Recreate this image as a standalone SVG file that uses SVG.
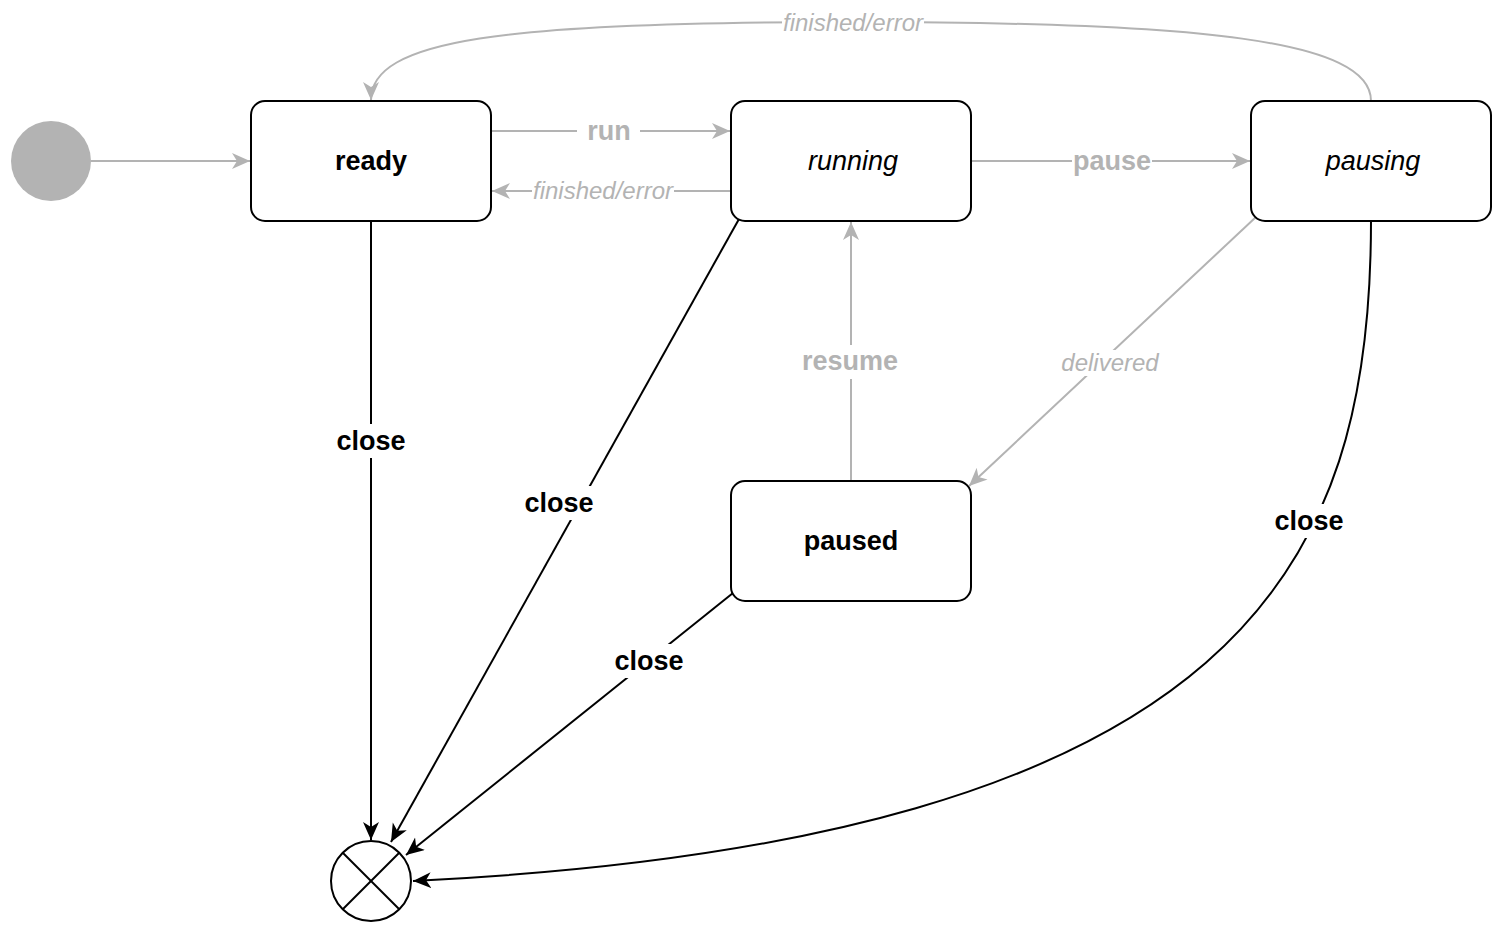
<svg xmlns="http://www.w3.org/2000/svg" width="1502" height="932" viewBox="0 0 1502 932">
<style>
.node{fill:#fff;stroke:#000;stroke-width:2}
.nt{font-family:"Liberation Sans",Arial,sans-serif;font-size:27px;text-anchor:middle;fill:#000}
.b{font-weight:bold}
.i{font-style:italic}
.g{fill:none;stroke:#b3b3b3;stroke-width:2}
.k{fill:none;stroke:#000;stroke-width:2}
.gl{font-family:"Liberation Sans",Arial,sans-serif;text-anchor:middle;fill:#b3b3b3}
.kl{font-family:"Liberation Sans",Arial,sans-serif;text-anchor:middle;fill:#000;font-weight:bold;font-size:27px}
.bg{fill:#fff}
</style>
<defs>
<marker id="ag" markerUnits="userSpaceOnUse" markerWidth="20" markerHeight="18" refX="18" refY="8" orient="auto" viewBox="0 0 20 18">
<path d="M0,0 L18,8 L0,16 L5,8 Z" fill="#b3b3b3"/>
</marker>
<marker id="ak" markerUnits="userSpaceOnUse" markerWidth="20" markerHeight="18" refX="18" refY="8" orient="auto" viewBox="0 0 20 18">
<path d="M0,0 L18,8 L0,16 L5,8 Z" fill="#000"/>
</marker>
</defs>
<g id="connectors">
<line class="g" x1="91" y1="161" x2="250" y2="161" marker-end="url(#ag)"/>
<line class="g" x1="491" y1="131" x2="730" y2="131" marker-end="url(#ag)"/>
<rect class="bg" x="577" y="114" width="63" height="34"/>
<text class="gl b" x="609" y="140" font-size="27">run</text>
<line class="g" x1="731" y1="191" x2="492" y2="191" marker-end="url(#ag)"/>
<rect class="bg" x="532" y="178" width="142" height="26"/>
<text class="gl i" x="603" y="199" font-size="24">finished/error</text>
<line class="g" x1="971" y1="161" x2="1250" y2="161" marker-end="url(#ag)"/>
<rect class="bg" x="1072" y="146" width="80" height="30"/>
<text class="gl b" x="1112" y="170" font-size="27">pause</text>
<path class="g" d="M1371,101 C1371,40 1200,22 853,22 C500,22 371,40 371,100" marker-end="url(#ag)"/>
<rect class="bg" x="782" y="10" width="142" height="26"/>
<text class="gl i" x="853" y="31" font-size="24">finished/error</text>
<line class="g" x1="851" y1="481" x2="851" y2="222" marker-end="url(#ag)"/>
<rect class="bg" x="798" y="345" width="104" height="34"/>
<text class="gl b" x="850" y="370" font-size="27">resume</text>
<line class="g" x1="1256" y1="217" x2="969" y2="486" marker-end="url(#ag)"/>
<rect class="bg" x="1060" y="350" width="100" height="26"/>
<text class="gl i" x="1110" y="371" font-size="24">delivered</text>
<line class="k" x1="371" y1="221" x2="371" y2="840" marker-end="url(#ak)"/>
<rect class="bg" x="334" y="424" width="74" height="34"/>
<text class="kl" x="371" y="450">close</text>
<line class="k" x1="739" y1="219" x2="391" y2="842" marker-end="url(#ak)"/>
<rect class="bg" x="522" y="486" width="74" height="34"/>
<text class="kl" x="559" y="512">close</text>
<line class="k" x1="733" y1="593" x2="406" y2="855" marker-end="url(#ak)"/>
<rect class="bg" x="612" y="644" width="74" height="34"/>
<text class="kl" x="649" y="670">close</text>
<path class="k" d="M1371,221 C1371,560 1250,840 413,881" marker-end="url(#ak)"/>
<rect class="bg" x="1272" y="504" width="74" height="34"/>
<text class="kl" x="1309" y="530">close</text>
</g>
<g id="initial"><circle cx="51" cy="161" r="40" fill="#b3b3b3"/></g>
<g id="ready"><rect class="node" x="251" y="101" width="240" height="120" rx="14"/><text class="nt b" x="371" y="170">ready</text></g>
<g id="running"><rect class="node" x="731" y="101" width="240" height="120" rx="14"/><text class="nt i" x="853" y="170">running</text></g>
<g id="pausing"><rect class="node" x="1251" y="101" width="240" height="120" rx="14"/><text class="nt i" x="1373" y="170">pausing</text></g>
<g id="paused"><rect class="node" x="731" y="481" width="240" height="120" rx="14"/><text class="nt b" x="851" y="550">paused</text></g>
<g id="final"><circle cx="371" cy="881" r="40" fill="#fff" stroke="#000" stroke-width="2"/><line x1="343" y1="853" x2="399" y2="909" stroke="#000" stroke-width="2"/><line x1="399" y1="853" x2="343" y2="909" stroke="#000" stroke-width="2"/></g>
</svg>
